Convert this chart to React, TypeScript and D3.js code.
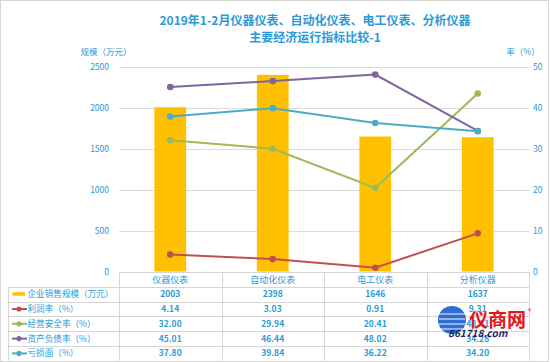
import { useEffect, useRef } from 'react';
import * as d3 from 'd3';

const categories = ['仪器仪表', '自动化仪表', '电工仪表', '分析仪器'];
const salesScale = [2003, 2398, 1646, 1637];
const profitRate = [4.14, 3.03, 0.91, 9.31];
const safetyRate = [32.0, 29.94, 20.41, 43.41];
const debtRate = [45.01, 46.44, 48.02, 34.28];
const lossRate = [37.8, 39.84, 36.22, 34.2];
const leftTicks = [0, 500, 1000, 1500, 2000, 2500];
const rightTicks = [0, 10, 20, 30, 40, 50];

const lineSeries = [
  { name: '利润率（%）', values: profitRate, color: '#C0504D' },
  { name: '经营安全率（%）', values: safetyRate, color: '#9BBB59' },
  { name: '资产负债率（%）', values: debtRate, color: '#8064A2' },
  { name: '亏损面（%）', values: lossRate, color: '#4BACC6' },
];

const BLUE = '#2A9AD9';
const FONT = '"Noto Sans CJK SC", "Noto Sans", sans-serif';

const App = () => {
  const svgRef = useRef<SVGSVGElement>(null);

  useEffect(() => {
    const width = 550;
    const height = 362;
    const plot = { left: 119, right: 529, top: 66.5, bottom: 272 };
    const rowH = 14.8;

    const svg = d3.select(svgRef.current)
      .attr('width', width)
      .attr('height', height);
    svg.selectAll('*').remove();

    svg.append('rect')
      .attr('x', 0.5).attr('y', 0.5)
      .attr('width', width - 2).attr('height', height - 1)
      .attr('fill', '#fff').attr('stroke', '#D6D6D6');

    const x = d3.scaleBand().domain(categories).range([plot.left, plot.right]);
    const yLeft = d3.scaleLinear().domain([0, 2500]).range([plot.bottom - 0.5, plot.top]);
    const yRight = d3.scaleLinear().domain([0, 50]).range([plot.bottom - 0.5, plot.top]);
    const cx = (c: string) => (x(c) as number) + x.bandwidth() / 2;

    // title
    const title = svg.append('text')
      .attr('text-anchor', 'middle')
      .attr('font-family', FONT)
      .attr('font-size', 12)
      .attr('font-weight', 'bold')
      .attr('fill', BLUE);
    title.append('tspan').attr('x', 315).attr('y', 25).text('2019年1-2月仪器仪表、自动化仪表、电工仪表、分析仪器');
    title.append('tspan').attr('x', 315).attr('y', 42).text('主要经济运行指标比较-1');

    svg.append('text')
      .attr('x', 106).attr('y', 55)
      .attr('text-anchor', 'middle')
      .attr('font-family', FONT).attr('font-size', 8.5)
      .attr('fill', BLUE)
      .text('规模（万元）');
    svg.append('text')
      .attr('x', 523).attr('y', 55)
      .attr('text-anchor', 'middle')
      .attr('font-family', FONT).attr('font-size', 8.5)
      .attr('fill', BLUE)
      .text('率（%）');

    // gridlines
    svg.append('g')
      .selectAll('line')
      .data(leftTicks.filter(t => t > 0))
      .enter()
      .append('line')
      .attr('x1', plot.left).attr('x2', plot.right)
      .attr('y1', d => Math.round(yLeft(d)) + 0.5)
      .attr('y2', d => Math.round(yLeft(d)) + 0.5)
      .attr('stroke', '#DADADA');

    // axis labels
    svg.append('g')
      .selectAll('text')
      .data(leftTicks)
      .enter()
      .append('text')
      .attr('x', 109).attr('y', d => yLeft(d) + 3)
      .attr('text-anchor', 'end')
      .attr('font-family', FONT).attr('font-size', 8.5)
      .attr('fill', BLUE)
      .text(d => d);
    svg.append('g')
      .selectAll('text')
      .data(rightTicks)
      .enter()
      .append('text')
      .attr('x', 533).attr('y', d => yRight(d) + 3)
      .attr('font-family', FONT).attr('font-size', 8.5)
      .attr('fill', BLUE)
      .text(d => d);

    // bars
    const barW = x.bandwidth() * 0.31;
    svg.append('g')
      .selectAll('rect')
      .data(salesScale)
      .enter()
      .append('rect')
      .attr('x', (d, i) => cx(categories[i]) - barW / 2)
      .attr('y', d => yLeft(d))
      .attr('width', barW)
      .attr('height', d => yLeft(0) - yLeft(d))
      .attr('fill', '#FFC000');

    // lines
    lineSeries.forEach(s => {
      const line = d3.line<number>()
        .x((d, i) => cx(categories[i]))
        .y(d => yRight(d));
      const g = svg.append('g');
      g.append('path')
        .datum(s.values)
        .attr('d', line)
        .attr('fill', 'none')
        .attr('stroke', s.color)
        .attr('stroke-width', 2);
      g.selectAll('circle')
        .data(s.values)
        .enter()
        .append('circle')
        .attr('cx', (d, i) => cx(categories[i]))
        .attr('cy', d => yRight(d))
        .attr('r', 3.3)
        .attr('fill', s.color);
    });

    // data table
    const table = svg.append('g');
    const gridColor = '#D6D6D6';
    const rows = 1 + 1 + lineSeries.length;
    const tableTop = plot.bottom;
    const tableBottom = tableTop + rowH * rows;
    // horizontal lines
    table.append('line')
      .attr('x1', plot.left).attr('x2', plot.right)
      .attr('y1', tableTop + 0.5).attr('y2', tableTop + 0.5)
      .attr('stroke', gridColor);
    for (let r = 1; r <= rows; r++) {
      const yy = Math.round(tableTop + rowH * r) + 0.5;
      table.append('line')
        .attr('x1', 8).attr('x2', plot.right)
        .attr('y1', yy).attr('y2', yy)
        .attr('stroke', gridColor);
    }
    // vertical lines
    table.append('line')
      .attr('x1', 8.5).attr('x2', 8.5)
      .attr('y1', tableTop + rowH).attr('y2', tableBottom)
      .attr('stroke', gridColor);
    [...categories.map(c => x(c) as number), plot.right].forEach(xx => {
      table.append('line')
        .attr('x1', Math.round(xx) + 0.5).attr('x2', Math.round(xx) + 0.5)
        .attr('y1', tableTop).attr('y2', tableBottom)
        .attr('stroke', gridColor);
    });

    // header
    table.selectAll('text.head')
      .data(categories)
      .enter()
      .append('text')
      .attr('class', 'head')
      .attr('x', d => cx(d))
      .attr('y', tableTop + rowH / 2 + 3.5)
      .attr('text-anchor', 'middle')
      .attr('font-family', FONT).attr('font-size', 9)
      .attr('fill', BLUE)
      .text(d => d);

    const tableRows = [
      { name: '企业销售规模（万元）', values: salesScale.map(v => String(v)), color: '#FFC000', bar: true },
      ...lineSeries.map(s => ({ name: s.name, values: s.values.map(v => v.toFixed(2)), color: s.color, bar: false })),
    ];

    tableRows.forEach((row, r) => {
      const yc = tableTop + rowH * (r + 1) + rowH / 2;
      if (row.bar) {
        table.append('rect')
          .attr('x', 12.5).attr('y', yc - 2)
          .attr('width', 12.5).attr('height', 3.5)
          .attr('fill', row.color);
      } else {
        table.append('line')
          .attr('x1', 12).attr('x2', 27)
          .attr('y1', yc).attr('y2', yc)
          .attr('stroke', row.color).attr('stroke-width', 2);
        table.append('circle')
          .attr('cx', 19).attr('cy', yc).attr('r', 2.6)
          .attr('fill', row.color);
      }
      table.append('text')
        .attr('x', 27.5).attr('y', yc + 3)
        .attr('font-family', FONT).attr('font-size', 8.6)
        .attr('fill', BLUE)
        .text(row.name);
      table.selectAll(null)
        .data(row.values)
        .enter()
        .append('text')
        .attr('x', (d, i) => cx(categories[i]))
        .attr('y', yc + 3)
        .attr('text-anchor', 'middle')
        .attr('font-family', FONT).attr('font-size', 8.5)
        .attr('font-weight', 'bold')
        .attr('fill', BLUE)
        .text(d => d);
    });

    // watermark
    const wm = svg.append('g');
    wm.append('circle')
      .attr('cx', 452).attr('cy', 320).attr('r', 14)
      .attr('fill', '#1D5FD0').attr('opacity', 0.92);
    [314, 319, 324, 329].forEach(yy => {
      wm.append('line')
        .attr('x1', 439).attr('x2', 465)
        .attr('y1', yy).attr('y2', yy)
        .attr('stroke', '#fff').attr('stroke-width', 1.2).attr('opacity', 0.8);
    });
    wm.append('text')
      .attr('x', 469).attr('y', 327)
      .attr('font-family', FONT).attr('font-size', 19)
      .attr('font-weight', 'bold')
      .attr('fill', '#E8141B')
      .text('仪商网');
    wm.append('text')
      .attr('x', 528).attr('y', 314)
      .attr('font-family', FONT).attr('font-size', 7)
      .attr('fill', '#E8141B')
      .text('®');
    wm.append('text')
      .attr('x', 448).attr('y', 337)
      .attr('font-family', FONT).attr('font-size', 10)
      .attr('font-weight', 'bold').attr('font-style', 'italic')
      .attr('fill', '#1B2A66')
      .text('861718.com');
  }, []);

  return (
    <svg ref={svgRef} style={{ position: 'absolute', left: 0, top: 0 }}></svg>
  );
};

export default App;
